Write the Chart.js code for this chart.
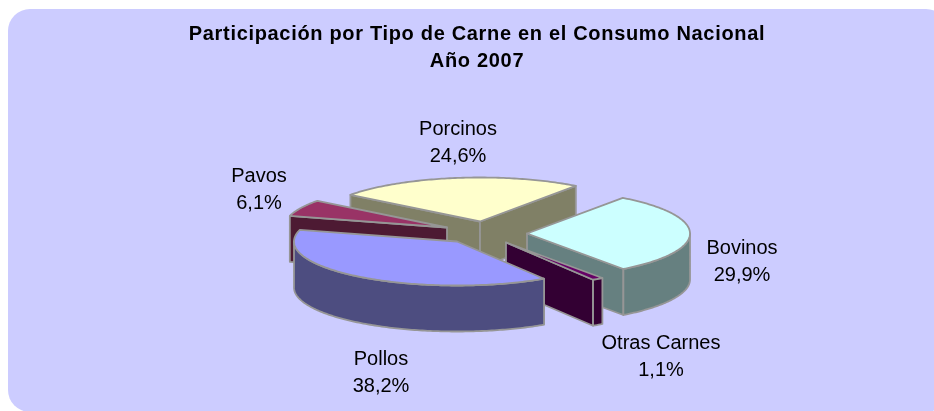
<!DOCTYPE html>
<html>
<head>
<meta charset="utf-8">
<style>html,body{margin:0;padding:0;background:#fff}canvas{display:block}</style>
<script src="https://cdn.jsdelivr.net/npm/chart.js@4"></script>
</head>
<body>
<div style="width:934px;height:411px"><canvas id="c" width="934" height="411"></canvas></div>
<script>
const categories = ['Bovinos','Otras Carnes','Pollos','Pavos','Porcinos'];
const shares = [29.9,1.1,38.2,6.1,24.6];
const topColors = ['#CCFFFF','#660066','#9999FF','#993366','#FFFFCC'];
const sideColors = ['#668080','#330033','#4D4D80','#4D1A33','#808066'];
const shiftX = [50,29,-20,-30,3];
const shiftY = [-1,8,7,-7,-13];
const paintOrder = [4,3,0,1,2];
const labelX = [742,661,381,259,458];
const labelY = [248,343,359,176,129];
const squash = 0.27, depth = 46, edge = '#969696';
const font = '20px "Liberation Sans", Arial, sans-serif';

function pt(arc,i,a,d){
  return [arc.x+shiftX[i]+arc.outerRadius*Math.cos(a), arc.y+shiftY[i]+d+arc.outerRadius*squash*Math.sin(a)];
}
function apex(arc,i,d){ return [arc.x+shiftX[i], arc.y+shiftY[i]+d]; }
function poly(ctx,pts,fill){
  ctx.beginPath();
  pts.forEach((p,k)=>k?ctx.lineTo(p[0],p[1]):ctx.moveTo(p[0],p[1]));
  ctx.closePath();
  if(fill){ctx.fillStyle=fill;ctx.fill();}
  ctx.strokeStyle=edge;ctx.stroke();
}
function sweep(arc,i,a0,a1,d){
  const out=[],n=Math.max(2,Math.ceil(Math.abs(a1-a0)*60));
  for(let k=0;k<=n;k++) out.push(pt(arc,i,a0+(a1-a0)*k/n,d));
  return out;
}
const pie3d = {
  id:'pie3d',
  beforeDraw(chart){
    const ctx=chart.ctx;
    ctx.save();
    ctx.fillStyle='#CCCCFF';
    ctx.beginPath();
    ctx.roundRect(8,9,940,403,22);
    ctx.fill();
    ctx.restore();
    ctx.letterSpacing='0.68px';
  },
  beforeDatasetDraw(chart,args){
    const ctx=chart.ctx, arcs=args.meta.data;
    ctx.save();
    ctx.lineWidth=1.8;ctx.lineJoin='round';
    paintOrder.forEach(i=>{
      const arc=arcs[i],s=arc.startAngle,e=arc.endAngle,side=sideColors[i];
      if(Math.cos(s)<0) poly(ctx,[apex(arc,i,0),pt(arc,i,s,0),pt(arc,i,s,depth),apex(arc,i,depth)],side);
      if(Math.cos(e)>0) poly(ctx,[apex(arc,i,0),pt(arc,i,e,0),pt(arc,i,e,depth),apex(arc,i,depth)],side);
      for(let k=-1;k<=1;k++){
        const a0=Math.max(s,2*Math.PI*k),a1=Math.min(e,Math.PI+2*Math.PI*k);
        if(a1>a0) poly(ctx,sweep(arc,i,a0,a1,0).concat(sweep(arc,i,a1,a0,depth)),side);
      }
      ctx.save();
      ctx.translate(arc.x+shiftX[i],arc.y+shiftY[i]);
      ctx.scale(1,squash);
      ctx.translate(-arc.x,-arc.y);
      arc.draw(ctx);
      ctx.restore();
      poly(ctx,[apex(arc,i,0)].concat(sweep(arc,i,s,e,0)),null);
    });
    ctx.restore();
    return false;
  },
  afterDraw(chart){
    const ctx=chart.ctx;
    ctx.save();
    ctx.letterSpacing='0px';
    ctx.font=font;ctx.fillStyle='#000';ctx.textAlign='center';ctx.textBaseline='middle';
    categories.forEach((c,i)=>{
      ctx.fillText(c,labelX[i],labelY[i]);
      ctx.fillText(shares[i].toFixed(1).replace('.',',')+'%',labelX[i],labelY[i]+27.5);
    });
    ctx.restore();
  }
};
new Chart(document.getElementById('c'),{
  type:'pie',
  data:{labels:categories,datasets:[{data:shares,backgroundColor:topColors,borderWidth:0,radius:163}]},
  options:{
    responsive:false,animation:false,rotation:36,
    layout:{padding:{left:20,top:0,bottom:17,right:0}},
    plugins:{
      legend:{display:false},tooltip:{enabled:false},
      title:{display:true,text:['Participación por Tipo de Carne en el Consumo Nacional','Año 2007'],
        color:'#000',font:{family:'"Liberation Sans", Arial, sans-serif',size:20,weight:'bold',lineHeight:1.35},padding:{top:21,bottom:0},fullSize:false}
    }
  },
  plugins:[pie3d]
});
</script>
</body>
</html>
